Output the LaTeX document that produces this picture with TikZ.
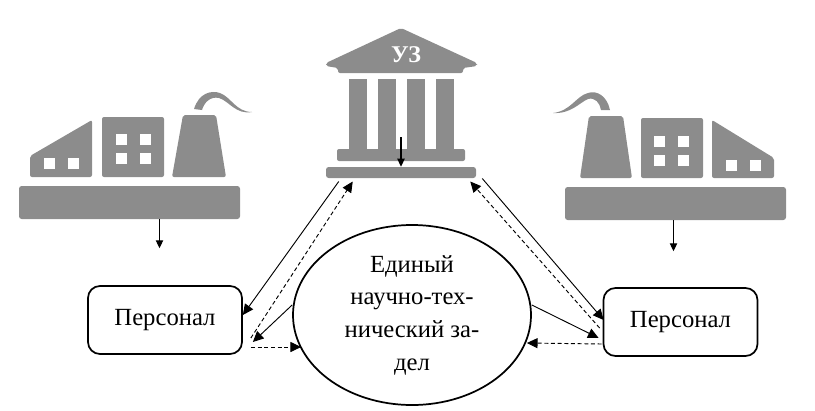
\documentclass[tikz,border=0pt]{standalone}
\usepackage{fontspec}
\setmainfont{Liberation Serif}
\usetikzlibrary{arrows.meta,shapes.geometric}
\definecolor{icongray}{HTML}{8C8C8C}

\begin{document}
\begin{tikzpicture}[
  x=0.75pt,y=-0.75pt,
  icon/.style={fill=icongray,draw=none,rounded corners=1.5pt},
  hole/.style={fill=white,draw=none},
  plate/.style={rectangle,fill=icongray,rounded corners=2pt,inner sep=0pt},
  staff/.style={rectangle,draw,line width=1.3pt,rounded corners=9pt,minimum width=115.5pt,minimum height=51pt,font=\fontsize{18.5}{22}\selectfont},
  core/.style={ellipse,draw,line width=1.3pt,minimum width=178.5pt,minimum height=135pt,inner sep=0pt,align=center,font=\fontsize{18.5}{24.5}\selectfont},
  flow/.style={-{Triangle[length=8pt,width=7.5pt]},line width=0.7pt},
  back/.style={flow,dash pattern=on 3pt off 2pt},
  drop/.style={-{Triangle[length=6pt,width=5.5pt]},line width=0.8pt},
]
  \useasboundingbox (0,0) rectangle (815,411);
  % left factory
  \node[plate,minimum width=165.75pt,minimum height=24.75pt] (baseL) at (129.5,202.5) {};
  \fill[icon] (30,177) -- (30,156) -- (92,120) -- (92,177) -- cycle;
  \fill[icon] (102,177) rectangle (164,117);
  \fill[icon] (172,177) -- (183,115) -- (216,115) -- (226,177) -- cycle;
  \fill[icongray] (194,109) .. controls (199,93) and (211,90) .. (220,93) .. controls (231,97) and (236,112) .. (252,112) .. controls (236,115) and (229,101) .. (219,98) .. controls (210,96) and (204,103) .. (202,110) -- cycle;
  \foreach \x in {116,140}
    \foreach \y in {134,153}
      \fill[hole] (\x,\y) rectangle +(11,11);
  \foreach \x in {44,68}
    \fill[hole] (\x,158) rectangle +(11,11);
  % right factory
  \node[plate,minimum width=165.75pt,minimum height=24.75pt] (baseR) at (675.5,203.5) {};
  \fill[icon] (580,178) -- (589,116) -- (623,116) -- (632,178) -- cycle;
  \fill[icon] (641,178) rectangle (703,118);
  \fill[icon] (712,178) -- (712,120) -- (774,158) -- (774,178) -- cycle;
  \fill[icongray] (610,110) .. controls (607,96) and (597,90) .. (588,93) .. controls (576,96) and (571,111) .. (553,113) .. controls (571,114) and (579,103) .. (588,99) .. controls (595,97) and (600,103) .. (601,110) -- cycle;
  \foreach \x in {654,678}
    \foreach \y in {136,155}
      \fill[hole] (\x,\y) rectangle +(11,11);
  \foreach \x in {726,750}
    \fill[hole] (\x,160) rectangle +(11,11);
  % bank
  \fill[icon] (401,28) -- (477,63) -- (477,66) -- (463,68) -- (463,73) -- (338,73) -- (338,68) -- (326,66) -- (326,63) -- cycle;
  \foreach \x in {349,378,407,436}
    \fill[icongray] (\x,79) rectangle +(17.5,71);
  \fill[icon] (337,161) rectangle (465,149);
  \node[plate,minimum width=112.5pt,minimum height=8.25pt] (baseC) at (401,172.5) {};
  \node[text=white,font=\fontsize{18}{20}\selectfont\bfseries] (uz) at (406,55) {УЗ};
  % personnel and core
  \node[staff] (persL) at (165,320) {Персонал};
  \node[staff] (persR) at (680.5,322) {Персонал};
  \node[core] (zadel) at (412,315) {Единый\\научно-тех-\\нический за-\\дел};
  % arrows
  \draw[drop] (baseL.south) ++(30,0) -- ++(0,29);
  \draw[drop] (baseR.south) ++(-2,0) -- ++(0,31);
  \draw[drop] ([yshift=22pt]baseC.north) -- (baseC.north);
  \draw[flow] ([shift={(13,9)}]baseC.west) -- ([shift={(0,-5)}]persL.east);
  \draw[back] ([shift={(8,18)}]persL.east) -- ([shift={(27,9)}]baseC.west);
  \draw[flow] (zadel.west |- 0,305) -- ([shift={(10,22)}]persL.east);
  \draw[back] ([shift={(8,27)}]persL.east) -- ([shift={(9,32)}]zadel.west);
  \draw[flow] ([shift={(6,6)}]baseC.east) -- ([shift={(1,-2)}]persR.west);
  \draw[back] ([shift={(-3,6)}]persR.west) -- ([shift={(-6,9)}]baseC.east);
  \draw[flow] ([shift={(0,-10)}]zadel.east) -- ([shift={(-4,16)}]persR.west);
  \draw[back] ([shift={(-1,22)}]persR.west) -- ([shift={(-5,28)}]zadel.east);
\end{tikzpicture}
\end{document}
